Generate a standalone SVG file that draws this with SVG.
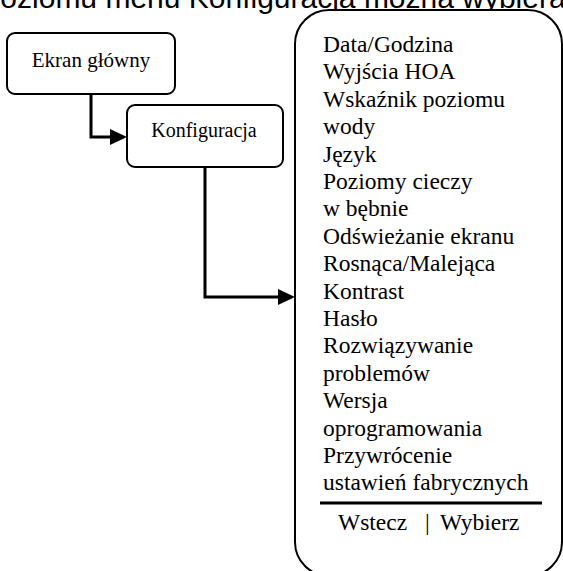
<svg xmlns="http://www.w3.org/2000/svg" width="563" height="571" viewBox="0 0 563 571">
  <style>
    .box { fill: #ffffff; stroke: #000000; stroke-width: 2; }
    .serif { font-family: "Liberation Serif", "Times New Roman", serif; fill: #000000; }
    .item { font-family: "Liberation Serif", "Times New Roman", serif; font-size: 23.5px; fill: #000000; }
    .conn { fill: none; stroke: #000000; stroke-width: 3; }
  </style>
  <defs>
    <marker id="arrow" markerUnits="userSpaceOnUse" markerWidth="17" markerHeight="16" refX="7" refY="8" orient="auto">
      <path d="M0,0 L17,8 L0,16 Z" fill="#000000"/>
    </marker>
  </defs>
  <rect width="563" height="571" fill="#ffffff"/>
  <text x="-43" y="8" font-family="'Liberation Sans', Arial, sans-serif" font-size="30" fill="#000000">Z poziomu menu Konfiguracja można wybierać</text>

  <g id="connectors">
    <path class="conn" d="M91,94 L91,137 L117,137" marker-end="url(#arrow)"/>
    <path class="conn" d="M205,167 L205,297 L285,297" marker-end="url(#arrow)"/>
  </g>

  <g id="node-ekran">
    <rect class="box" x="7" y="33" width="168" height="61" rx="8"/>
    <text class="serif" x="91" y="67" font-size="21" text-anchor="middle">Ekran główny</text>
  </g>

  <g id="node-konfiguracja">
    <rect class="box" x="127" y="105" width="156" height="62" rx="8"/>
    <text class="serif" x="204" y="137" font-size="20" text-anchor="middle">Konfiguracja</text>
  </g>

  <g id="node-menu">
    <rect class="box" x="295" y="10" width="267" height="566" rx="34"/>
    <text class="item" x="323" y="52">Data/Godzina</text>
    <text class="item" x="323" y="79.4">Wyjścia HOA</text>
    <text class="item" x="323" y="106.8">Wskaźnik poziomu</text>
    <text class="item" x="323" y="134.2">wody</text>
    <text class="item" x="323" y="161.6">Język</text>
    <text class="item" x="323" y="189">Poziomy cieczy</text>
    <text class="item" x="323" y="216.4">w bębnie</text>
    <text class="item" x="323" y="243.8">Odświeżanie ekranu</text>
    <text class="item" x="323" y="271.2">Rosnąca/Malejąca</text>
    <text class="item" x="323" y="298.6">Kontrast</text>
    <text class="item" x="323" y="326">Hasło</text>
    <text class="item" x="323" y="353.4">Rozwiązywanie</text>
    <text class="item" x="323" y="380.8">problemów</text>
    <text class="item" x="323" y="408.2">Wersja</text>
    <text class="item" x="323" y="435.6">oprogramowania</text>
    <text class="item" x="323" y="463">Przywrócenie</text>
    <text class="item" x="323" y="490.4">ustawień fabrycznych</text>
    <line x1="320" y1="503" x2="542" y2="503" stroke="#000000" stroke-width="3"/>
    <text class="item" y="530"><tspan x="338">Wstecz</tspan><tspan x="425">|</tspan><tspan x="440">Wybierz</tspan></text>
  </g>
</svg>
